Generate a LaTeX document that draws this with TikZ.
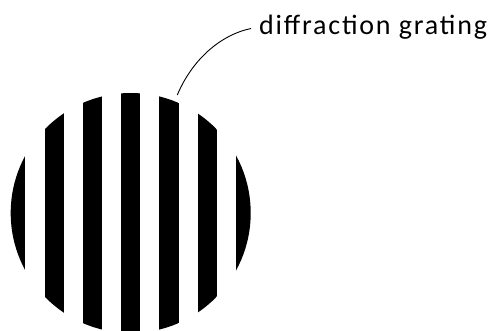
\documentclass[tikz,border=0pt]{standalone}
\usepackage{fontspec}
\setmainfont{Carlito}[LetterSpace=6.5]
\begin{document}
\begin{tikzpicture}[x=1pt,y=-1pt,
  stripe/.style={fill=black},
  leader/.style={draw=black,line width=0.9pt},
  lbl/.style={font=\fontsize{28}{33}\selectfont,inner sep=0pt}]
\useasboundingbox (0,0) rectangle (497,331);
\begin{scope}
  \clip (130.7,213) circle (120);
  \foreach \k in {-3,...,3}{
    \fill[stripe] ({130.7+\k*38.3-9.6},80) rectangle ({130.7+\k*38.3+9.6},340);
  }
\end{scope}
\node[lbl,anchor=base west] (label) at (259,34.5) {diffraction grating};
\coordinate (tip) at (177.3,95);
\coordinate (lend) at (251,28.5);
\draw[leader] (tip) .. controls (192,60) and (220,35) .. (lend);
\end{tikzpicture}
\end{document}
